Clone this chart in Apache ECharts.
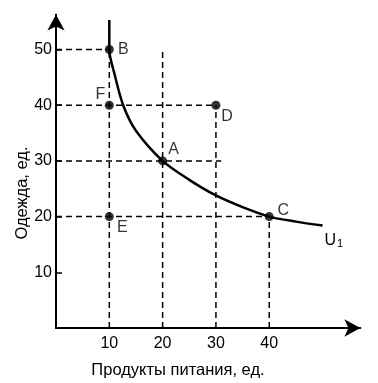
<!DOCTYPE html>
<html>
<head>
<meta charset="utf-8">
<script src="https://cdn.jsdelivr.net/npm/echarts@6/dist/echarts.min.js"></script>
<style>
  html, body { margin: 0; padding: 0; background: #fff; }
  #chart { width: 378px; height: 383px; }
</style>
</head>
<body>
<div id="chart"></div>
<script>
// ticks
const xTicks = [10, 20, 30, 40];
const yTicks = [10, 20, 30, 40, 50];

// indifference curve U1
const curveX = [10, 10, 11, 12.6, 15, 20, 25, 30, 35, 40, 45, 50];
const curveY = [55.3, 50, 45.5, 40, 35.4, 30, 26.6, 23.8, 21.7, 20, 19.1, 18.4];

// labelled points
const pointNames = ['B', 'F', 'D', 'A', 'E', 'C'];
const pointX = [10, 10, 30, 20, 10, 40];
const pointY = [50, 40, 40, 30, 20, 20];

// dashed guide segments [x1, y1, x2, y2]
const guides = [
  [0, 50, 10, 50],
  [0, 40, 30, 40],
  [0, 30, 31, 30],
  [0, 20, 40, 20],
  [10, 0, 10, 50],
  [20, 0, 20, 50],
  [30, 0, 30, 40],
  [40, 0, 40, 20]
];

const font = 'Liberation Sans, Arial, sans-serif';
// where each letter sits relative to its dot
const labelOffset = {
  B: [14, 0], F: [-9, -11], D: [11, 11], A: [11, -11], E: [13, 11], C: [14, -6]
};

const chart = echarts.init(document.getElementById('chart'));

const series = [];
guides.forEach(function (g) {
  series.push({
    type: 'line',
    data: [[g[0], g[1]], [g[2], g[3]]],
    symbol: 'none',
    silent: true,
    lineStyle: { color: '#000', width: 1.5, type: [6, 4] },
    z: 2
  });
});

series.push({
  type: 'line',
  smooth: 0.3,
  symbol: 'none',
  data: curveX.map(function (x, i) { return [x, curveY[i]]; }),
  lineStyle: { color: '#000', width: 2.5 },
  endLabel: {
    show: true,
    formatter: 'U{s|1}',
    color: '#000',
    fontFamily: font,
    fontSize: 16,
    offset: [-6, 15],
    rich: { s: { fontSize: 11, fontFamily: font, verticalAlign: 'bottom', padding: [6, 0, 0, 1] } }
  },
  z: 3
});

series.push({
  type: 'scatter',
  symbolSize: 9,
  itemStyle: { color: '#000' },
  data: pointNames.map(function (n, i) {
    return {
      value: [pointX[i], pointY[i]],
      name: n,
      label: { show: true, formatter: n, position: 'inside', offset: labelOffset[n] }
    };
  }),
  label: { color: '#000', fontFamily: font, fontSize: 16 },
  z: 4
});

chart.setOption({
  animation: false,
  grid: { left: 56, right: 17.6, top: 14.4, bottom: 55 },
  xAxis: {
    type: 'value',
    min: 0,
    max: 57.1,
    interval: 10,
    splitLine: { show: false },
    axisTick: { show: false },
    axisLine: {
      lineStyle: { color: '#000', width: 2 },
      symbol: ['none', 'arrow'],
      symbolSize: [13, 16]
    },
    axisLabel: {
      customValues: xTicks,
      color: '#000',
      fontFamily: font,
      fontSize: 16,
      margin: 8
    }
  },
  yAxis: {
    type: 'value',
    min: 0,
    max: 56.3,
    interval: 10,
    splitLine: { show: false },
    axisTick: { show: true, inside: true, length: 6, customValues: yTicks, lineStyle: { color: '#000', width: 1.5 } },
    axisLine: {
      lineStyle: { color: '#000', width: 2 },
      symbol: ['none', 'arrow'],
      symbolSize: [13, 16]
    },
    axisLabel: {
      customValues: yTicks,
      color: '#000',
      fontFamily: font,
      fontSize: 16,
      margin: 4
    }
  },
  graphic: [
    {
      type: 'text',
      x: 178, y: 370,
      style: { text: 'Продукты питания, ед.', fill: '#000', font: '16.5px ' + font, align: 'center', verticalAlign: 'middle' }
    },
    {
      type: 'text',
      x: 22, y: 193, rotation: Math.PI / 2,
      style: { text: 'Одежда, ед.', fill: '#000', font: '16.5px ' + font, align: 'center', verticalAlign: 'middle' }
    }
  ],
  series: series
});
</script>
</body>
</html>
